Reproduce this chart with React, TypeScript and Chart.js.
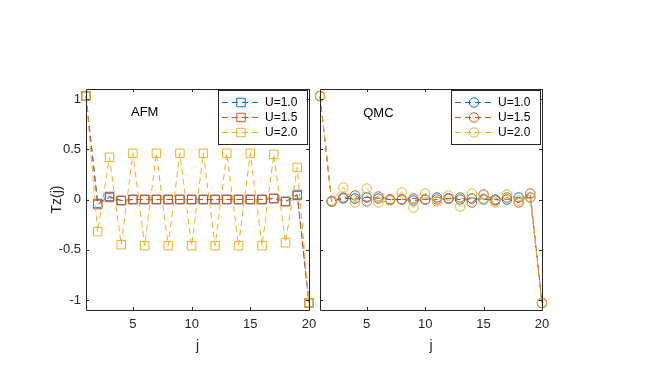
import React, { useEffect, useRef } from "react";
import { Chart, registerables } from "chart.js";

Chart.register(...registerables);

const jValues = [1, 2, 3, 4, 5, 6, 7, 8, 9, 10, 11, 12, 13, 14, 15, 16, 17, 18, 19, 20];
const xTicks = [5, 10, 15, 20];
const yTicks = [-1, -0.5, 0, 0.5, 1];
const seriesLabels = ["U=1.0", "U=1.5", "U=2.0"];
const seriesColors = ["#0072BD", "#D95319", "#EDB120"];

const afmU10 = [1.03, -0.04, 0.03, -0.01, 0, 0, 0, 0, 0, 0, 0, 0, 0, 0, 0, 0, 0.01, -0.02, 0.04, -1.03];
const afmU15 = [1.03, -0.05, 0.02, -0.01, 0, 0, 0, 0, 0, 0, 0, 0, 0, 0, 0, 0, 0.01, -0.02, 0.05, -1.03];
const afmU20 = [1.03, -0.32, 0.42, -0.45, 0.46, -0.46, 0.46, -0.46, 0.46, -0.46, 0.46, -0.46, 0.46, -0.46, 0.46, -0.46, 0.45, -0.43, 0.32, -1.03];

const qmcU10 = [1.03, -0.02, 0.01, 0.01, 0.02, 0.01, 0.0, 0.0, -0.01, 0.0, 0.02, 0.01, 0.0, 0.01, 0.0, 0.0, 0.0, 0.02, 0.02, -1.03];
const qmcU15 = [1.03, -0.02, 0.02, 0.04, -0.02, 0.03, 0.0, 0.0, 0.01, 0.0, 0.0, 0.01, 0.02, -0.03, 0.05, -0.01, 0.02, -0.03, 0.06, -1.03];
const qmcU20 = [1.03, -0.01, 0.12, -0.03, 0.11, -0.03, -0.01, 0.07, -0.08, 0.06, -0.02, 0.04, -0.07, 0.06, 0.01, -0.03, 0.05, -0.01, 0.02, -1.03];

const FONT = "'Liberation Sans', Arial, Helvetica, sans-serif";
const AXIS_COLOR = "#262626";

type PanelSpec = {
  series: number[][];
  marker: "rect" | "circle";
  radius: number;
  note: string;
  noteAt: [number, number];
  showYLabels: boolean;
  padding: { left: number; right: number; top: number; bottom: number };
  yWidth: number;
};

function makePlugins(spec: PanelSpec) {
  const boxPlugin = {
    id: "matlabBox",
    afterDatasetsDraw(chart: any) {
      const { ctx, chartArea } = chart;
      const { left, right, top, bottom } = chartArea;
      const xs = chart.scales.x;
      const ys = chart.scales.y;
      const tl = 3;
      ctx.save();
      ctx.strokeStyle = AXIS_COLOR;
      ctx.lineWidth = 1;
      ctx.setLineDash([]);
      ctx.beginPath();
      ctx.rect(Math.round(left) + 0.5, Math.round(top) + 0.5, Math.round(right) - Math.round(left), Math.round(bottom) - Math.round(top));
      ctx.stroke();
      ctx.beginPath();
      xs.ticks.forEach((t: any) => {
        const px = Math.round(xs.getPixelForValue(t.value)) + 0.5;
        ctx.moveTo(px, Math.round(bottom));
        ctx.lineTo(px, Math.round(bottom) - tl);
        ctx.moveTo(px, Math.round(top));
        ctx.lineTo(px, Math.round(top) + tl);
      });
      ys.ticks.forEach((t: any) => {
        const py = Math.round(ys.getPixelForValue(t.value)) + 0.5;
        ctx.moveTo(Math.round(left), py);
        ctx.lineTo(Math.round(left) + tl, py);
        ctx.moveTo(Math.round(right), py);
        ctx.lineTo(Math.round(right) - tl, py);
      });
      ctx.stroke();
      // annotation text
      ctx.fillStyle = "#000";
      ctx.font = `13px ${FONT}`;
      ctx.textAlign = "center";
      ctx.textBaseline = "middle";
      ctx.fillText(spec.note, xs.getPixelForValue(spec.noteAt[0]), ys.getPixelForValue(spec.noteAt[1]));
      ctx.restore();
    },
  };

  const legendPlugin = {
    id: "insetLegend",
    afterDraw(chart: any) {
      const { ctx, chartArea } = chart;
      const w = 89;
      const h = 54;
      const bx = Math.round(chartArea.right - 2 - w);
      const by = Math.round(chartArea.top + 1);
      ctx.save();
      ctx.fillStyle = "#fff";
      ctx.fillRect(bx, by, w, h);
      ctx.strokeStyle = AXIS_COLOR;
      ctx.lineWidth = 1;
      ctx.strokeRect(bx + 0.5, by + 0.5, w, h);
      chart.data.datasets.forEach((ds: any, i: number) => {
        const y = by + 12.5 + i * 15;
        ctx.strokeStyle = ds.borderColor;
        ctx.lineWidth = 1;
        ctx.setLineDash([6, 4]);
        ctx.beginPath();
        ctx.moveTo(bx + 4, y);
        ctx.lineTo(bx + 41, y);
        ctx.stroke();
        ctx.setLineDash([]);
        const mx = bx + 23;
        ctx.fillStyle = "#fff";
        ctx.beginPath();
        if (spec.marker === "rect") {
          const s = spec.radius * Math.SQRT1_2;
          ctx.rect(mx - s, y - s, 2 * s, 2 * s);
        } else {
          ctx.arc(mx, y, spec.radius, 0, Math.PI * 2);
        }
        ctx.stroke();
        ctx.fillStyle = "#000";
        ctx.font = `12px ${FONT}`;
        ctx.textAlign = "left";
        ctx.textBaseline = "middle";
        ctx.fillText(ds.label, bx + 47, y + 0.5);
      });
      ctx.restore();
    },
  };
  return [boxPlugin, legendPlugin];
}

function makeConfig(spec: PanelSpec): any {
  const order = [2, 1, 0];
  const datasets = spec.series.map((vals, i) => ({
    label: seriesLabels[i],
    data: jValues.map((j, k) => ({ x: j, y: vals[k] })),
    borderColor: seriesColors[i],
    backgroundColor: "rgba(0,0,0,0)",
    borderWidth: 1,
    borderDash: [6, 4],
    pointStyle: spec.marker,
    pointRadius: spec.radius,
    pointBorderWidth: 1,
    pointBorderColor: seriesColors[i],
    pointBackgroundColor: "rgba(0,0,0,0)",
    tension: 0,
    clip: false,
    order: order[i],
  }));
  return {
    type: "line",
    data: { datasets },
    options: {
      animation: false,
      responsive: false,
      events: [],
      devicePixelRatio: 1,
      layout: { padding: spec.padding },
      plugins: { legend: { display: false }, tooltip: { enabled: false } },
      scales: {
        x: {
          type: "linear",
          min: 1,
          max: 20,
          afterBuildTicks: (s: any) => {
            s.ticks = xTicks.map((v) => ({ value: v }));
          },
          ticks: {
            padding: 7,
            color: AXIS_COLOR,
            font: { size: 13, family: FONT },
            callback: (v: any) => String(v),
            maxRotation: 0,
          },
          grid: { display: false, drawTicks: false },
          border: { display: false },
          title: { display: true, text: "j", color: AXIS_COLOR, font: { size: 14, family: FONT }, padding: 0 },
          afterFit: (s: any) => {
            s.height = 45;
          },
        },
        y: {
          type: "linear",
          min: -1.1,
          max: 1.1,
          afterBuildTicks: (s: any) => {
            s.ticks = yTicks.map((v) => ({ value: v }));
          },
          ticks: {
            display: spec.showYLabels,
            padding: 5,
            color: AXIS_COLOR,
            font: { size: 13, family: FONT },
            callback: (v: any) => String(v),
          },
          grid: { display: false, drawTicks: false },
          border: { display: false },
          title: {
            display: spec.showYLabels,
            text: "Tz(j)",
            color: AXIS_COLOR,
            font: { size: 14, family: FONT },
            padding: { top: 3, bottom: 0 },
          },
          afterFit: (s: any) => {
            s.width = spec.yWidth;
          },
        },
      },
    },
    plugins: makePlugins(spec),
  };
}

const leftSpec: PanelSpec = {
  series: [afmU10, afmU15, afmU20],
  marker: "rect",
  radius: 6,
  note: "AFM",
  noteAt: [6, 0.87],
  showYLabels: true,
  padding: { left: 46, right: 355, top: 89, bottom: 16 },
  yWidth: 40,
};

const rightSpec: PanelSpec = {
  series: [qmcU10, qmcU15, qmcU20],
  marker: "circle",
  radius: 4.7,
  note: "QMC",
  noteAt: [6, 0.86],
  showYLabels: false,
  padding: { left: 320, right: 122, top: 89, bottom: 16 },
  yWidth: 0,
};

export default function App() {
  const leftRef = useRef<HTMLCanvasElement>(null);
  const rightRef = useRef<HTMLCanvasElement>(null);

  useEffect(() => {
    Chart.defaults.font.family = FONT;
    const charts: Chart[] = [];
    if (leftRef.current) charts.push(new Chart(leftRef.current, makeConfig(leftSpec)));
    if (rightRef.current) charts.push(new Chart(rightRef.current, makeConfig(rightSpec)));
    return () => charts.forEach((c) => c.destroy());
  }, []);

  const canvasStyle: React.CSSProperties = { position: "absolute", left: 0, top: 0, width: 664, height: 371 };
  return (
    <div style={{ position: "fixed", left: 0, top: 0, width: 664, height: 371, background: "#fff" }}>
      <canvas ref={leftRef} width={664} height={371} style={canvasStyle} />
      <canvas ref={rightRef} width={664} height={371} style={canvasStyle} />
    </div>
  );
}
